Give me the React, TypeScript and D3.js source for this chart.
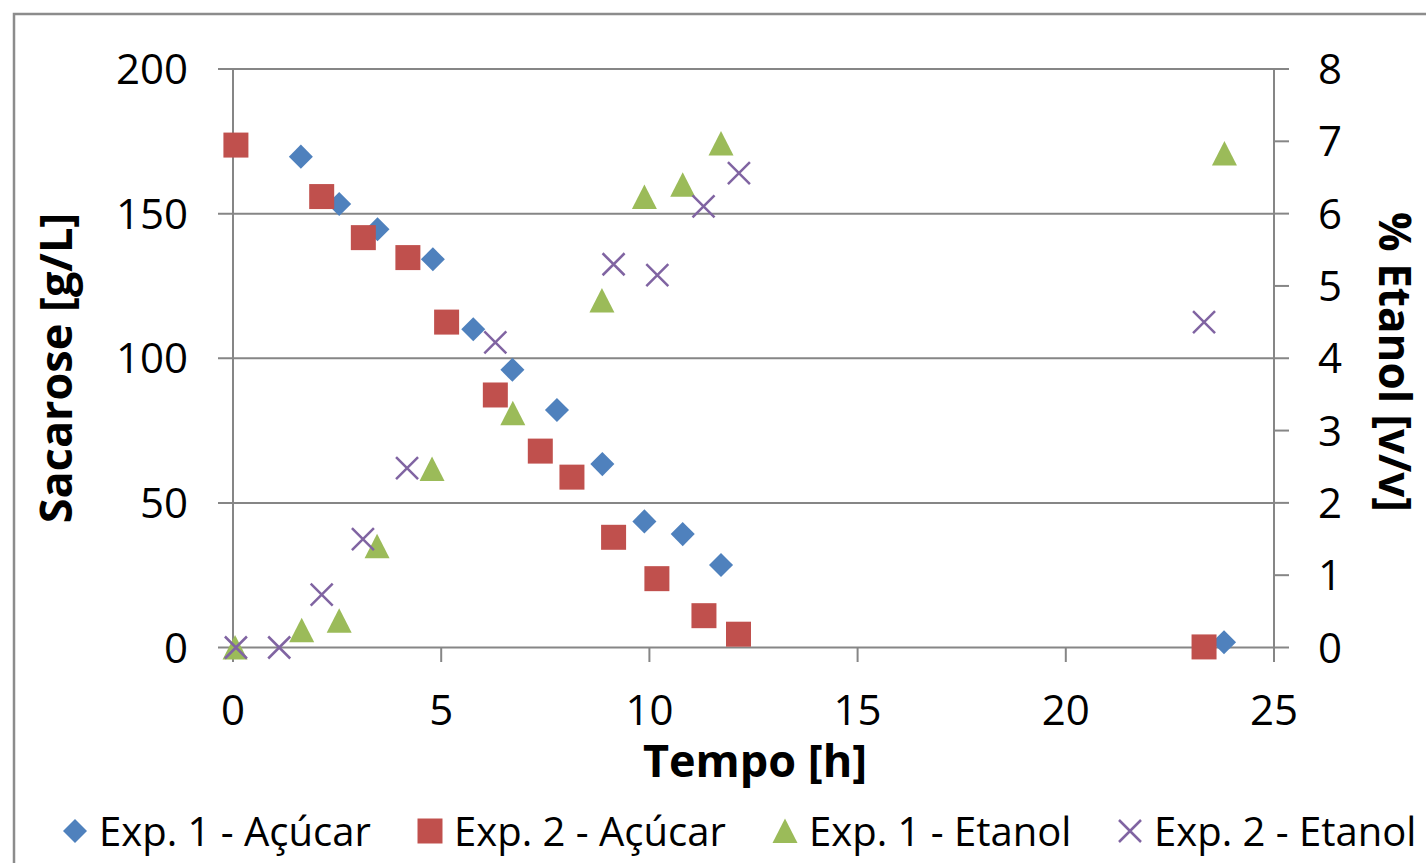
import React from 'react';
import * as d3 from 'd3';

// Exp. 1 - sugar (sacarose, g/L)
const exp1SugarTime = [1.63, 2.55, 3.47, 4.8, 5.77, 6.71, 7.78, 8.87, 9.88, 10.8, 11.72, 23.8];
const exp1Sugar = [169.7, 153.3, 144.6, 134.2, 110.0, 96.0, 82.1, 63.4, 43.6, 39.2, 28.5, 1.8];

// Exp. 2 - sugar
const exp2SugarTime = [0.07, 2.13, 3.13, 4.2, 5.13, 6.3, 7.38, 8.14, 9.14, 10.18, 11.31, 12.14, 23.32];
const exp2Sugar = [173.7, 155.9, 141.7, 134.8, 112.5, 87.3, 67.9, 58.9, 38.1, 23.8, 11.0, 4.6, 0.2];

// Exp. 1 - ethanol (% v/v)
const exp1EthTime = [0.05, 1.65, 2.55, 3.46, 4.78, 6.72, 8.86, 9.88, 10.8, 11.72, 23.81];
const exp1Eth = [0, 0.24, 0.37, 1.4, 2.47, 3.24, 4.8, 6.23, 6.4, 6.97, 6.83];

// Exp. 2 - ethanol
const exp2EthTime = [0.07, 1.11, 2.13, 3.12, 4.18, 6.3, 9.14, 10.19, 11.3, 12.15, 23.32];
const exp2Eth = [0, 0, 0.73, 1.5, 2.48, 4.22, 5.3, 5.15, 6.1, 6.56, 4.5];

const xTicks = [0, 5, 10, 15, 20, 25];
const leftTicks = [0, 50, 100, 150, 200];
const rightTicks = [0, 1, 2, 3, 4, 5, 6, 7, 8];

const legendLabels = ['Exp. 1 - Açúcar', 'Exp. 2 - Açúcar', 'Exp. 1 - Etanol', 'Exp. 2 - Etanol'];

const W = 1426;
const H = 863;
const FONT = "'Open Sans', 'Noto Sans', sans-serif";
const GRID = '#868686';

const x = d3.scaleLinear().domain([0, 25]).range([233, 1274]);
const yL = d3.scaleLinear().domain([0, 200]).range([647.5, 69]);
const yR = d3.scaleLinear().domain([0, 8]).range([647.5, 69]);

const squarePath = d3.symbol().type(d3.symbolSquare).size(25 * 25)() as string;
const diamondPath = d3.symbol().type(d3.symbolSquare).size(17 * 17)() as string;
const trianglePath = 'M0,-12.5L12.5,12L-12.5,12Z';
const crossPath = 'M-11,-11L11,11M-11,11L11,-11';

function Marker({ kind, cx, cy }: { kind: number; cx: number; cy: number }) {
  if (kind === 0)
    return <path d={diamondPath} transform={`translate(${cx},${cy}) rotate(45)`} fill="#4F81BD" />;
  if (kind === 1)
    return <path d={squarePath} transform={`translate(${cx},${cy})`} fill="#C0504D" />;
  if (kind === 2)
    return <path d={trianglePath} transform={`translate(${cx},${cy})`} fill="#9BBB59" />;
  return (
    <path d={crossPath} transform={`translate(${cx},${cy})`} fill="none" stroke="#8064A2" strokeWidth={2.5} />
  );
}

export default function App() {
  const series = [
    { t: exp1SugarTime, v: exp1Sugar, y: yL },
    { t: exp2SugarTime, v: exp2Sugar, y: yL },
    { t: exp1EthTime, v: exp1Eth, y: yR },
    { t: exp2EthTime, v: exp2Eth, y: yR },
  ];
  const legendX = [75, 430, 785, 1130];
  const [y0] = yL.range();
  const yTop = yL.range()[1];

  return (
    <svg
      width={W}
      height={H}
      style={{ position: 'absolute', left: 0, top: 0, background: '#fff' }}
      fontFamily={FONT}
    >
      <rect x={0} y={0} width={W} height={H} fill="#fff" />
      {/* chart frame, runs past the right and bottom edges */}
      <rect x={14} y={14} width={W + 100} height={H + 100} fill="none" stroke="#8c8c8c" strokeWidth={2.5} />

      {/* gridlines + left ticks */}
      {leftTicks.map((d) => (
        <line key={'g' + d} x1={218} x2={1274} y1={yL(d)} y2={yL(d)} stroke={GRID} strokeWidth={2} />
      ))}
      {/* right ticks */}
      {rightTicks.map((d) => (
        <line key={'r' + d} x1={1274} x2={1289} y1={yR(d)} y2={yR(d)} stroke={GRID} strokeWidth={2} />
      ))}
      {/* x ticks */}
      {xTicks.map((d) => (
        <line key={'x' + d} x1={x(d)} x2={x(d)} y1={y0} y2={662} stroke={GRID} strokeWidth={2} />
      ))}
      <line x1={x(0)} x2={x(0)} y1={yTop} y2={y0} stroke={GRID} strokeWidth={2} />
      <line x1={x(25)} x2={x(25)} y1={yTop} y2={y0} stroke={GRID} strokeWidth={2} />

      {/* tick labels */}
      {leftTicks.map((d) => (
        <text key={'lt' + d} x={188} y={yL(d) + 15} textAnchor="end" fontSize={42}>
          {d}
        </text>
      ))}
      {rightTicks.map((d) => (
        <text key={'rt' + d} x={1318} y={yR(d) + 15} textAnchor="start" fontSize={42}>
          {d}
        </text>
      ))}
      {xTicks.map((d) => (
        <text key={'xt' + d} x={x(d)} y={725} textAnchor="middle" fontSize={42}>
          {d}
        </text>
      ))}

      {/* axis titles */}
      <text x={755} y={777} textAnchor="middle" fontSize={45} fontWeight="bold">
        Tempo [h]
      </text>
      <text transform={`translate(72,368) rotate(-90)`} textAnchor="middle" fontSize={45} fontWeight="bold">
        Sacarose [g/L]
      </text>
      <text transform={`translate(1379,362) rotate(90)`} textAnchor="middle" fontSize={44} fontWeight="bold">
        % Etanol [v/v]
      </text>

      {/* points */}
      {series.map((s, i) => (
        <g key={'s' + i}>
          {s.t.map((t, j) => (
            <Marker key={j} kind={i} cx={x(t)} cy={s.y(s.v[j])} />
          ))}
        </g>
      ))}

      {/* legend */}
      {legendLabels.map((label, i) => (
        <g key={'lg' + i}>
          <Marker kind={i} cx={legendX[i]} cy={831} />
          <text x={legendX[i] + 24} y={846} fontSize={40}>
            {label}
          </text>
        </g>
      ))}
    </svg>
  );
}
